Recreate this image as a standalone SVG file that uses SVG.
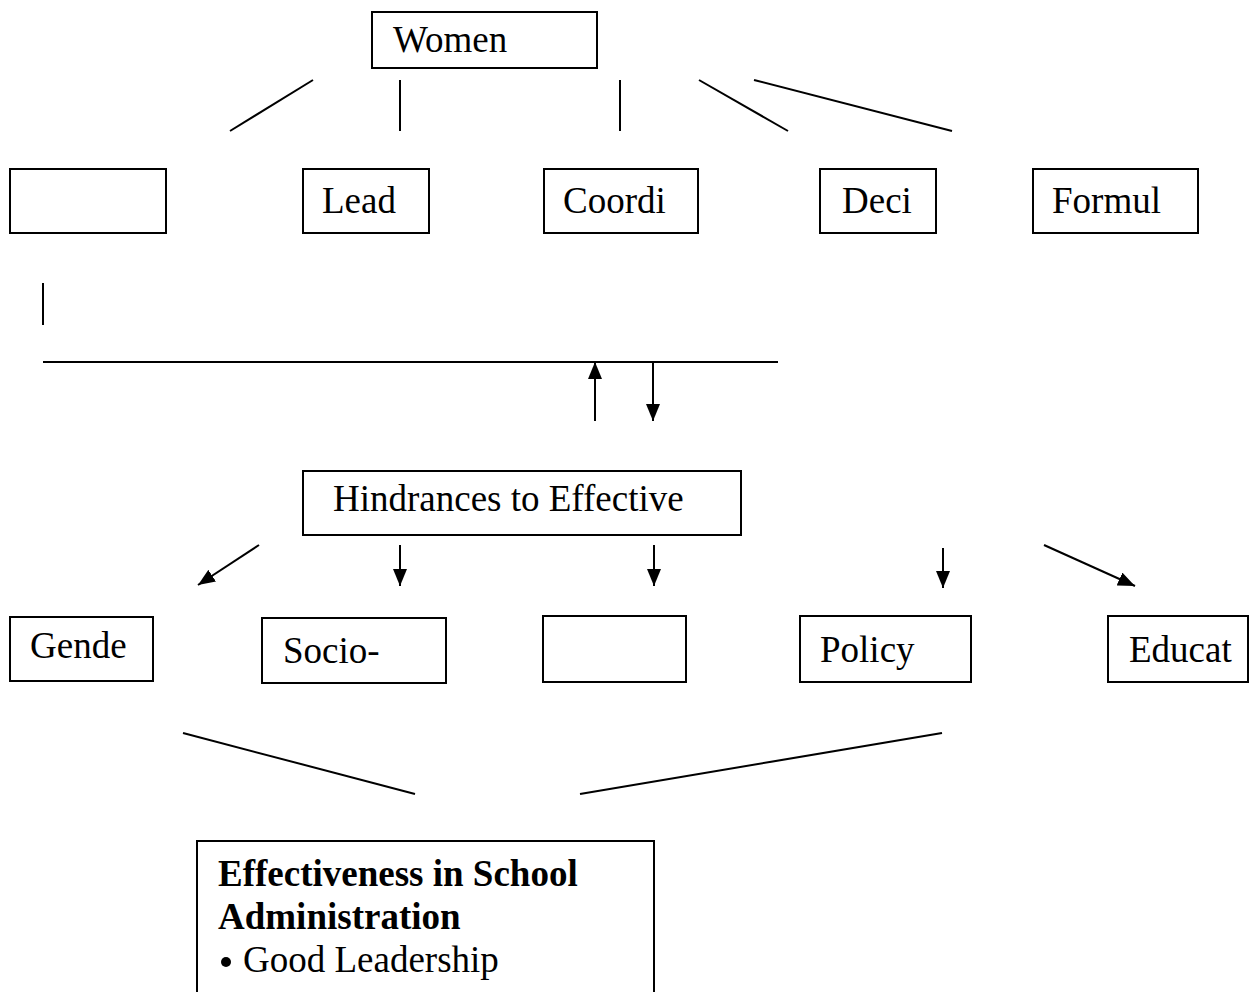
<svg xmlns="http://www.w3.org/2000/svg" width="1250" height="992" viewBox="0 0 1250 992">
<style>
.box{fill:#fff;stroke:#000;stroke-width:2}
.t{font-family:"Liberation Serif","Times New Roman",serif;font-size:37px;fill:#000}
.b{font-weight:bold}
.ln{stroke:#000;stroke-width:2;fill:none}
</style>
<defs>
<marker id="ah" markerUnits="userSpaceOnUse" markerWidth="17" markerHeight="14" refX="17" refY="7" orient="auto">
<path d="M0,0 L17,7 L0,14 Z" fill="#000"/>
</marker>
</defs>
<rect width="1250" height="992" fill="#fff"/>
<g id="connectors">
<line class="ln" x1="313" y1="80" x2="230" y2="131"/>
<line class="ln" x1="400" y1="80" x2="400" y2="131"/>
<line class="ln" x1="620" y1="80" x2="620" y2="131"/>
<line class="ln" x1="699" y1="80" x2="788" y2="131"/>
<line class="ln" x1="754" y1="80" x2="952" y2="131"/>
<line class="ln" x1="43" y1="283" x2="43" y2="325"/>
<line class="ln" x1="43" y1="362" x2="778" y2="362"/>
<line class="ln" x1="595" y1="421" x2="595" y2="362" marker-end="url(#ah)"/>
<line class="ln" x1="653" y1="362" x2="653" y2="421" marker-end="url(#ah)"/>
<line class="ln" x1="259" y1="545" x2="198" y2="585" marker-end="url(#ah)"/>
<line class="ln" x1="400" y1="545" x2="400" y2="586" marker-end="url(#ah)"/>
<line class="ln" x1="654" y1="545" x2="654" y2="586" marker-end="url(#ah)"/>
<line class="ln" x1="943" y1="548" x2="943" y2="588" marker-end="url(#ah)"/>
<line class="ln" x1="1044" y1="545" x2="1135" y2="586" marker-end="url(#ah)"/>
<line class="ln" x1="183" y1="733" x2="415" y2="794"/>
<line class="ln" x1="942" y1="733" x2="580" y2="794"/>
</g>
<g id="women"><rect class="box" x="372" y="12" width="225" height="56"/><text class="t" x="393" y="52">Women</text></g>
<g id="box-empty1"><rect class="box" x="10" y="169" width="156" height="64"/></g>
<g id="lead"><rect class="box" x="303" y="169" width="126" height="64"/><text class="t" x="322" y="213">Lead</text></g>
<g id="coordi"><rect class="box" x="544" y="169" width="154" height="64"/><text class="t" x="563" y="213">Coordi</text></g>
<g id="deci"><rect class="box" x="820" y="169" width="116" height="64"/><text class="t" x="842" y="213">Deci</text></g>
<g id="formul"><rect class="box" x="1033" y="169" width="165" height="64"/><text class="t" x="1052" y="213">Formul</text></g>
<g id="hindrances"><rect class="box" x="303" y="471" width="438" height="64"/><text class="t" x="333" y="511">Hindrances to Effective</text></g>
<g id="gende"><rect class="box" x="10" y="617" width="143" height="64"/><text class="t" x="30" y="658">Gende</text></g>
<g id="socio"><rect class="box" x="262" y="618" width="184" height="65"/><text class="t" x="283" y="663">Socio-</text></g>
<g id="box-empty2"><rect class="box" x="543" y="616" width="143" height="66"/></g>
<g id="policy"><rect class="box" x="800" y="616" width="171" height="66"/><text class="t" x="820" y="662">Policy</text></g>
<g id="educat"><rect class="box" x="1108" y="616" width="140" height="66"/><text class="t" x="1129" y="662">Educat</text></g>
<g id="effectiveness">
<rect class="box" x="197" y="841" width="457" height="170"/>
<text class="t b" x="218" y="886">Effectiveness in School</text>
<text class="t b" x="218" y="929">Administration</text>
<circle cx="226" cy="962" r="5" fill="#000"/>
<text class="t" x="243" y="972">Good Leadership</text>
</g>
</svg>
